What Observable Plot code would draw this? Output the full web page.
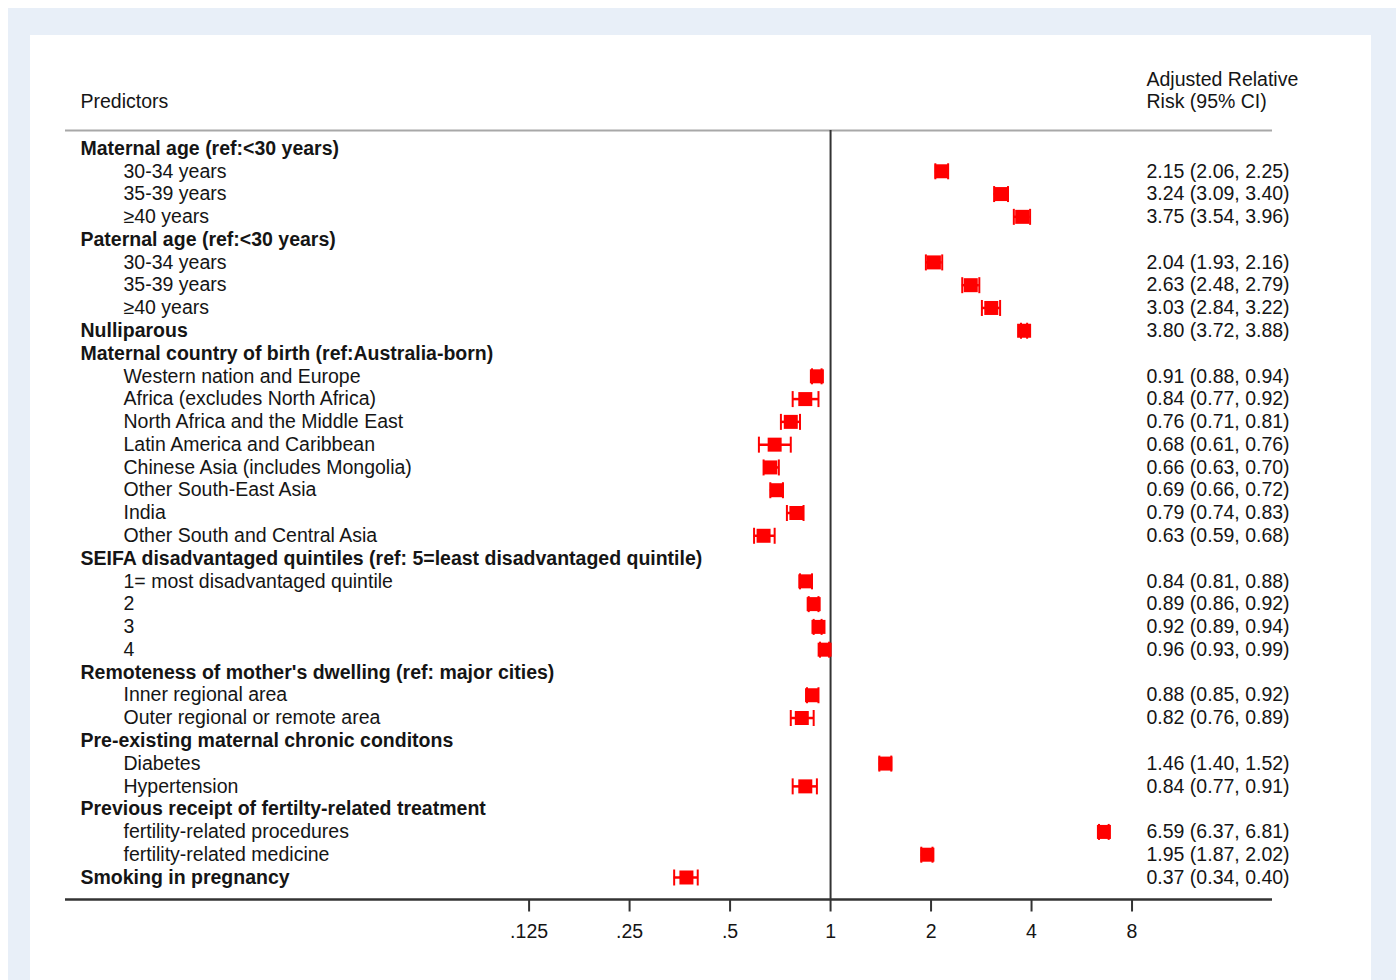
<!DOCTYPE html>
<html><head><meta charset="utf-8">
<script src="https://cdn.jsdelivr.net/npm/d3@7"></script>
<script src="https://cdn.jsdelivr.net/npm/@observablehq/plot@0.6"></script>
<style>
html,body{margin:0;padding:0;background:#fff;}
#page{position:relative;width:1396px;height:980px;overflow:hidden;}
#bg{position:absolute;left:8px;top:8px;width:1388px;height:972px;background:#e8eff8;}
#panel{position:absolute;left:30px;top:35px;width:1341px;height:945px;background:#fff;}
#chart{position:absolute;left:0;top:0;}
</style></head><body>
<div id="page"><div id="bg"></div><div id="panel"></div><div id="chart"></div></div>
<script>
// ---- data ----
const labels = [
  "Maternal age (ref:<30 years)", "30-34 years", "35-39 years", "≥40 years",
  "Paternal age (ref:<30 years)", "30-34 years", "35-39 years", "≥40 years",
  "Nulliparous",
  "Maternal country of birth (ref:Australia-born)",
  "Western nation and Europe", "Africa (excludes North Africa)", "North Africa and the Middle East",
  "Latin America and Caribbean", "Chinese Asia (includes Mongolia)", "Other South-East Asia",
  "India", "Other South and Central Asia",
  "SEIFA disadvantaged quintiles (ref: 5=least disadvantaged quintile)",
  "1= most disadvantaged quintile", "2", "3", "4",
  "Remoteness of mother's dwelling (ref: major cities)",
  "Inner regional area", "Outer regional or remote area",
  "Pre-existing maternal chronic conditons", "Diabetes", "Hypertension",
  "Previous receipt of fertilty-related treatment",
  "fertility-related procedures", "fertility-related medicine",
  "Smoking in pregnancy"
];
const isGroup = [1,0,0,0, 1,0,0,0, 1, 1,0,0,0,0,0,0,0,0, 1,0,0,0,0, 1,0,0, 1,0,0, 1,0,0, 1];
const rr    = [null,2.15,3.24,3.75, null,2.04,2.63,3.03, 3.80, null,0.91,0.84,0.76,0.68,0.66,0.69,0.79,0.63, null,0.84,0.89,0.92,0.96, null,0.88,0.82, null,1.46,0.84, null,6.59,1.95, 0.37];
const lower = [null,2.06,3.09,3.54, null,1.93,2.48,2.84, 3.72, null,0.88,0.77,0.71,0.61,0.63,0.66,0.74,0.59, null,0.81,0.86,0.89,0.93, null,0.85,0.76, null,1.40,0.77, null,6.37,1.87, 0.34];
const upper = [null,2.25,3.40,3.96, null,2.16,2.79,3.22, 3.88, null,0.94,0.92,0.81,0.76,0.70,0.72,0.83,0.68, null,0.88,0.92,0.94,0.99, null,0.92,0.89, null,1.52,0.91, null,6.81,2.02, 0.40];
const xTicks = [0.125, 0.25, 0.5, 1, 2, 4, 8];
const xTickLabels = [".125", ".25", ".5", "1", "2", "4", "8"];
const headerLeft = ["Predictors"];
const headerRight = ["Adjusted Relative", "Risk (95% CI)"];

// ---- build ----
const rows = labels.map((label, i) => ({i, label, group: isGroup[i] === 1, rr: rr[i], lo: lower[i], hi: upper[i]}));
const est = rows.filter(d => d.rr != null);
const ticks = xTicks.map((t, k) => ({t, label: xTickLabels[k]}));

const yTop = -0.79, yBottom = labels.length - 1 + 0.966;
const font = "'Liberation Sans', Arial, Helvetica, sans-serif";
const fs = 19.5;
const ink = "#151515";
const red = "#ff0000";

const squareSym = {draw(ctx, size) { const r = Math.sqrt(size / Math.PI); ctx.rect(-r, -r, 2 * r, 2 * r); }};
const capSym = {draw(ctx, size) { const r = Math.sqrt(size / Math.PI); ctx.moveTo(0, -r); ctx.lineTo(0, r); }};

const chart = Plot.plot({
  width: 1396,
  height: 980,
  marginLeft: 65,
  marginRight: 124,
  marginTop: 130,
  marginBottom: 81,
  style: {background: "transparent", fontFamily: font, fontSize: fs + "px", color: ink},
  x: {type: "log", domain: [0.005107, 21.08], axis: null},
  y: {domain: [yBottom, yTop], axis: null},
  marks: [
    Plot.ruleY([yTop], {stroke: "#a8a8a8", strokeWidth: 2}),
    Plot.ruleX([1], {stroke: "#333", strokeWidth: 2}),
    Plot.ruleY(est, {y: "i", x1: "lo", x2: "hi", stroke: red, strokeWidth: 2.5}),
    Plot.dot(est, {x: "lo", y: "i", symbol: capSym, r: 8, stroke: red, strokeWidth: 2, fill: "none"}),
    Plot.dot(est, {x: "hi", y: "i", symbol: capSym, r: 8, stroke: red, strokeWidth: 2, fill: "none"}),
    Plot.dot(est, {x: "rr", y: "i", symbol: squareSym, r: 7, fill: red, stroke: "none"}),
    Plot.text(rows.filter(d => d.group), {y: "i", text: "label", frameAnchor: "left", dx: 15, textAnchor: "start", fontWeight: "bold", fontSize: fs, fill: ink}),
    Plot.text(rows.filter(d => !d.group), {y: "i", text: "label", frameAnchor: "left", dx: 58, textAnchor: "start", fontSize: fs, fill: ink}),
    Plot.text(est, {y: "i", text: d => `${d.rr.toFixed(2)} (${d.lo.toFixed(2)}, ${d.hi.toFixed(2)})`, frameAnchor: "right", dx: -126, textAnchor: "start", fontSize: fs, fill: ink}),
    Plot.text(headerLeft, {text: d => d, frameAnchor: "top-left", dx: 15, dy: -29, lineAnchor: "middle", textAnchor: "start", fontSize: fs, fill: ink}),
    Plot.text([headerRight[0]], {text: d => d, frameAnchor: "top-right", dx: -126, dy: -51, lineAnchor: "middle", textAnchor: "start", fontSize: fs, fill: ink}),
    Plot.text([headerRight[1]], {text: d => d, frameAnchor: "top-right", dx: -126, dy: -29, lineAnchor: "middle", textAnchor: "start", fontSize: fs, fill: ink}),
    Plot.ruleY([yBottom], {stroke: "#333", strokeWidth: 2.5}),
    Plot.dot(ticks, {x: "t", frameAnchor: "bottom", dy: 6, symbol: capSym, r: 6, stroke: "#333", strokeWidth: 2, fill: "none"}),
    Plot.text(ticks, {x: "t", text: "label", frameAnchor: "bottom", dy: 32, lineAnchor: "middle", textAnchor: "middle", fontSize: fs, fill: ink})
  ]
});
document.getElementById("chart").appendChild(chart);
</script>
</body></html>
